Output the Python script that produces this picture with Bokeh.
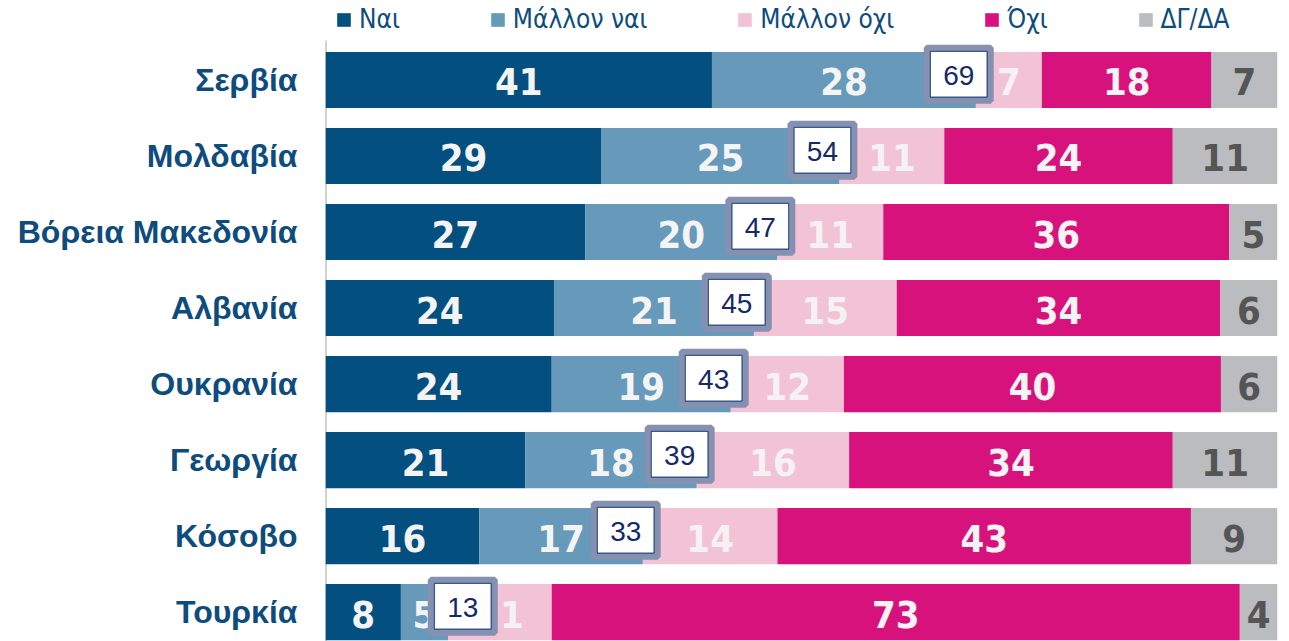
from bokeh.plotting import figure
from bokeh.models import Range1d, FixedTicker, Legend, LegendItem, ColumnDataSource
from bokeh.core.properties import value
from bokeh.embed import file_html
from bokeh.resources import INLINE

countries = ["Σερβία", "Μολδαβία", "Βόρεια Μακεδονία", "Αλβανία",
             "Ουκρανία", "Γεωργία", "Κόσοβο", "Τουρκία"]
series = ["Ναι", "Μάλλον ναι", "Μάλλον όχι", "Όχι", "ΔΓ/ΔΑ"]
yes = [41, 29, 27, 24, 24, 21, 16, 8]
rather_yes = [28, 25, 20, 21, 19, 18, 17, 5]
rather_no = [7, 11, 11, 15, 12, 16, 14, 11]
no = [18, 24, 36, 34, 40, 34, 43, 73]
dk = [7, 11, 5, 6, 6, 11, 9, 4]
yes_total = [69, 54, 47, 45, 43, 39, 33, 13]

colors = ["#034f80", "#6699ba", "#f2c2d5", "#d8127c", "#bbbcc0"]
label_colors = ["#f4f4f4", "#f4f4f4", "#f6f1f3", "#f4f4f4", "#555555"]

NARROW = "DejaVu Sans Condensed"
ARIAL = "Liberation Sans"

values = [yes, rather_yes, rather_no, no, dk]
n = len(countries)
ys = list(range(n))
row_tot = [sum(v[i] for v in values) for i in range(n)]

Y_TOP, Y_AXIS_TOP, Y_BOTTOM = -1.046, -0.52, 7.388

p = figure(width=1289, height=641, output_backend="svg", toolbar_location=None,
           x_range=Range1d(0, 100), y_range=Range1d(Y_BOTTOM, Y_TOP),
           x_axis_location=None, min_border_left=325, min_border_right=12,
           min_border_top=0, min_border_bottom=0)
p.outline_line_color = None
p.grid.visible = False
p.background_fill_color = "white"

# axis line (only below the legend row)
p.segment(x0=[0], x1=[0], y0=[Y_AXIS_TOP], y1=[Y_BOTTOM], line_color="#a6a6a6", line_width=2)

items = []
cum = [0.0] * n
for k, (name, vals) in enumerate(zip(series, values)):
    left = list(cum)
    right = [cum[i] + vals[i] * 100.0 / row_tot[i] for i in range(n)]
    cum = right
    src = ColumnDataSource(dict(y=ys, left=left, right=right,
                                xc=[(l + r) / 2 for l, r in zip(left, right)],
                                lab=[str(v) for v in vals]))
    r = p.hbar(y="y", left="left", right="right", height=0.74, source=src,
               fill_color=colors[k], line_color=None)
    items.append(LegendItem(label=name, renderers=[r]))
    p.text(x="xc", y="y", text="lab", source=src, text_align="center",
           text_baseline="middle", text_color=label_colors[k],
           text_font=value(NARROW), text_font_style="bold",
           text_font_size="38px", y_offset=2)

# boxes with Ναι + Μάλλον ναι totals
box_x = []
for i in range(n):
    y_end = (yes[i] + rather_yes[i]) * 100.0 / row_tot[i]
    y_only = yes[i] * 100.0 / row_tot[i]
    box_x.append(max(y_end - 1.8, y_only + 6.5))
bsrc = ColumnDataSource(dict(x=box_x, y=[v - 0.075 for v in ys],
                             lab=[str(v) for v in yes_total]))
p.rect(x="x", y="y", width=64, height=53, width_units="screen", height_units="screen",
       source=bsrc, fill_color="white", line_color="#8690b0", line_width=6)
p.rect(x="x", y="y", width=57, height=46, width_units="screen", height_units="screen",
       source=bsrc, fill_alpha=0, line_color="#3a5889", line_width=1.5)
p.text(x="x", y="y", text="lab", source=bsrc, text_align="center",
       text_baseline="middle", text_color="#152a68", text_font=value(ARIAL),
       text_font_size="28px", y_offset=1)

ax = p.yaxis[0]
ax.ticker = FixedTicker(ticks=ys)
ax.major_label_overrides = {i: c for i, c in enumerate(countries)}
ax.major_label_text_font = ARIAL
ax.major_label_text_font_style = "bold"
ax.major_label_text_font_size = "32px"
ax.major_label_text_color = "#0d4c7d"
ax.major_label_standoff = 28
ax.major_tick_out = 0
ax.major_tick_in = 0
ax.minor_tick_out = 0
ax.minor_tick_in = 0
ax.axis_line_color = None

legend = Legend(items=items, orientation="horizontal", location=(10, 607),
                glyph_width=17, glyph_height=17, label_standoff=7, spacing=89,
                label_text_font=NARROW, label_text_font_size="26px",
                label_text_color="#0d4c7d", border_line_color=None,
                background_fill_alpha=0, padding=0, margin=0)
p.add_layout(legend)

open("out.html", "w").write(file_html(p, INLINE))
